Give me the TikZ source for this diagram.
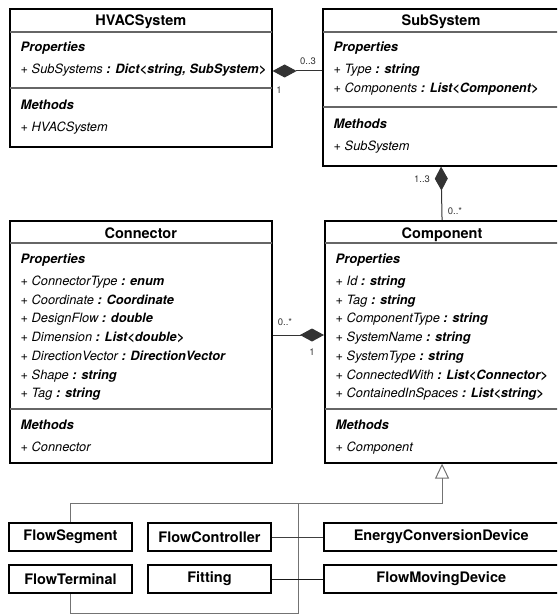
\documentclass[tikz,border=0pt]{standalone}
\usepackage{fontspec}
\setmainfont{TeX Gyre Heros}
\usetikzlibrary{arrows.meta}
\newcommand\mtype[1]{\textbf{#1}}
\begin{document}
\begin{tikzpicture}[x=1pt,y=-1pt,
  classbox/.style={draw=black, line width=1.6pt, inner sep=0pt, anchor=north west},
  leafbox/.style={draw=black, line width=1.6pt, inner sep=0pt, minimum height=28pt,
    font=\fontsize{14.5}{17}\selectfont\bfseries},
  title/.style={font=\fontsize{14.5}{17}\selectfont\bfseries, anchor=base, inner sep=0pt},
  sect/.style={font=\fontsize{13}{15}\selectfont\bfseries\itshape, anchor=base west, inner sep=0pt},
  member/.style={font=\fontsize{12.8}{15}\selectfont\itshape, anchor=base west, inner sep=0pt},
  sep/.style={draw=black!60, line width=1.2pt, shorten <=1pt, shorten >=1pt},
  mult/.style={font=\fontsize{9.5}{11}\selectfont, inner sep=0pt, text=black!80},
  comp/.style={draw=black!80, line width=1pt, -{Diamond[length=24pt,width=13pt]}},
  inh/.style={draw=black!55, line width=1pt},
  link/.style={draw=black!75, line width=1pt}]
\useasboundingbox (0,0) rectangle (557,615);
\clip (0,0) rectangle (557,615);

% ---------- HVACSystem ----------
\node[classbox, minimum width=262pt, minimum height=138pt] (hvac) at (9,8) {};
\node[title] (hvacT) at (hvac.north |- 0,25.5) {HVACSystem};
\draw[sep] (hvac.west |- 0,32) -- (hvac.east |- 0,32);
\draw[sep] (hvac.west |- 0,88) -- (hvac.east |- 0,88);
\node[sect] (hvacP) at (20.5,51.5) {Properties};
\node[member] (hvacS1) at (20.5,74) {+ SubSystems \mtype{: Dict<string, SubSystem>}};
\node[sect] (hvacM) at (20.5,110) {Methods};
\node[member] (hvacM1) at (20.5,131.5) {+ HVACSystem};

% ---------- SubSystem ----------
\node[classbox, minimum width=236.5pt, minimum height=157pt] (subsys) at (322,8) {};
\node[title] (subT) at (subsys.north |- 0,25.5) {SubSystem};
\draw[sep] (subsys.west |- 0,32) -- (subsys.east |- 0,32);
\draw[sep] (subsys.west |- 0,107) -- (subsys.east |- 0,107);
\node[sect] (subP) at (333.5,51.5) {Properties};
\node[member] (subS1) at (333.5,74) {+ Type \mtype{: string}};
\node[member] (subS2) at (333.5,92.5) {+ Components \mtype{: List<Component>}};
\node[sect] (subM) at (333.5,128.5) {Methods};
\node[member] (subM1) at (333.5,150) {+ SubSystem};

% ---------- Connector ----------
\node[classbox, minimum width=262pt, minimum height=242pt] (conn) at (9,220) {};
\node[title] (connT) at (conn.north |- 0,238) {Connector};
\draw[sep] (conn.west |- 0,243) -- (conn.east |- 0,243);
\draw[sep] (conn.west |- 0,409) -- (conn.east |- 0,409);
\node[sect] (connP) at (20.5,263.5) {Properties};
\node[member] (connS1) at (20.5,285.5) {+ ConnectorType \mtype{: enum}};
\node[member] (connS2) at (20.5,304.2) {+ Coordinate \mtype{: Coordinate}};
\node[member] (connS3) at (20.5,322.9) {+ DesignFlow \mtype{: double}};
\node[member] (connS4) at (20.5,341.6) {+ Dimension \mtype{: List<double>}};
\node[member] (connS5) at (20.5,360.3) {+ DirectionVector \mtype{: DirectionVector}};
\node[member] (connS6) at (20.5,379) {+ Shape \mtype{: string}};
\node[member] (connS7) at (20.5,397.7) {+ Tag \mtype{: string}};
\node[sect] (connM) at (20.5,429.5) {Methods};
\node[member] (connM1) at (20.5,451.5) {+ Connector};

% ---------- Component ----------
\node[classbox, minimum width=234.5pt, minimum height=242pt] (comp) at (324,220) {};
\node[title] (compT) at (comp.north |- 0,238) {Component};
\draw[sep] (comp.west |- 0,243) -- (comp.east |- 0,243);
\draw[sep] (comp.west |- 0,409) -- (comp.east |- 0,409);
\node[sect] (compP) at (335.5,263.5) {Properties};
\node[member] (compS1) at (335.5,285.5) {+ Id \mtype{: string}};
\node[member] (compS2) at (335.5,304.2) {+ Tag \mtype{: string}};
\node[member] (compS3) at (335.5,322.9) {+ ComponentType \mtype{: string}};
\node[member] (compS4) at (335.5,341.6) {+ SystemName \mtype{: string}};
\node[member] (compS5) at (335.5,360.3) {+ SystemType \mtype{: string}};
\node[member] (compS6) at (335.5,379) {+ ConnectedWith \mtype{: List<Connector>}};
\node[member] (compS7) at (335.5,397.7) {+ ContainedInSpaces \mtype{: List<string>}};
\node[sect] (compM) at (335.5,429.5) {Methods};
\node[member] (compM1) at (335.5,451.5) {+ Component};

% ---------- subclasses ----------
\node[leafbox, minimum width=123pt] (fseg) at (70.5,537) {FlowSegment};
\node[leafbox, minimum width=123pt] (fctrl) at (209.5,537) {FlowController};
\node[leafbox, minimum width=234.5pt] (ecd) at (441.25,537) {EnergyConversionDevice};
\node[leafbox, minimum width=123pt] (fterm) at (70.5,579) {FlowTerminal};
\node[leafbox, minimum width=123pt] (fit) at (209.5,579) {Fitting};
\node[leafbox, minimum width=234.5pt] (fmd) at (441.25,579) {FlowMovingDevice};

% ---------- compositions ----------
\coordinate (hsRow) at (0,71);
\draw[comp] (subsys.west |- hsRow) -- (hvac.east |- hsRow);
\draw[comp] (comp.north) -- (subsys.south);
\coordinate (ccRow) at (0,335);
\draw[comp] (conn.east |- ccRow) -- (comp.west |- ccRow);

\node[mult] (m03) at (308,61) {0..3};
\node[mult] (m1a) at (279,90) {1};
\node[mult] (m13) at (422,179) {1..3};
\node[mult] (m0sa) at (455,211) {0..*};
\node[mult] (m0sb) at (285,322) {0..*};
\node[mult] (m1b) at (312,352) {1};

% ---------- generalisation ----------
\coordinate (bus) at (0,503);
\coordinate (trunk) at (298,503);
\coordinate (bottom) at (0,613);
\draw[inh, -{Triangle[open, length=15pt, width=14pt]}] (fseg.north) |- (comp.south |- bus) -- (comp.south);
\draw[inh] (fterm.south) |- (trunk |- bottom) -- (trunk);
\draw[link] (fctrl.east) -- (ecd.west);
\draw[link, draw=black!90] (fit.east) -- (fmd.west);
\end{tikzpicture}
\end{document}
